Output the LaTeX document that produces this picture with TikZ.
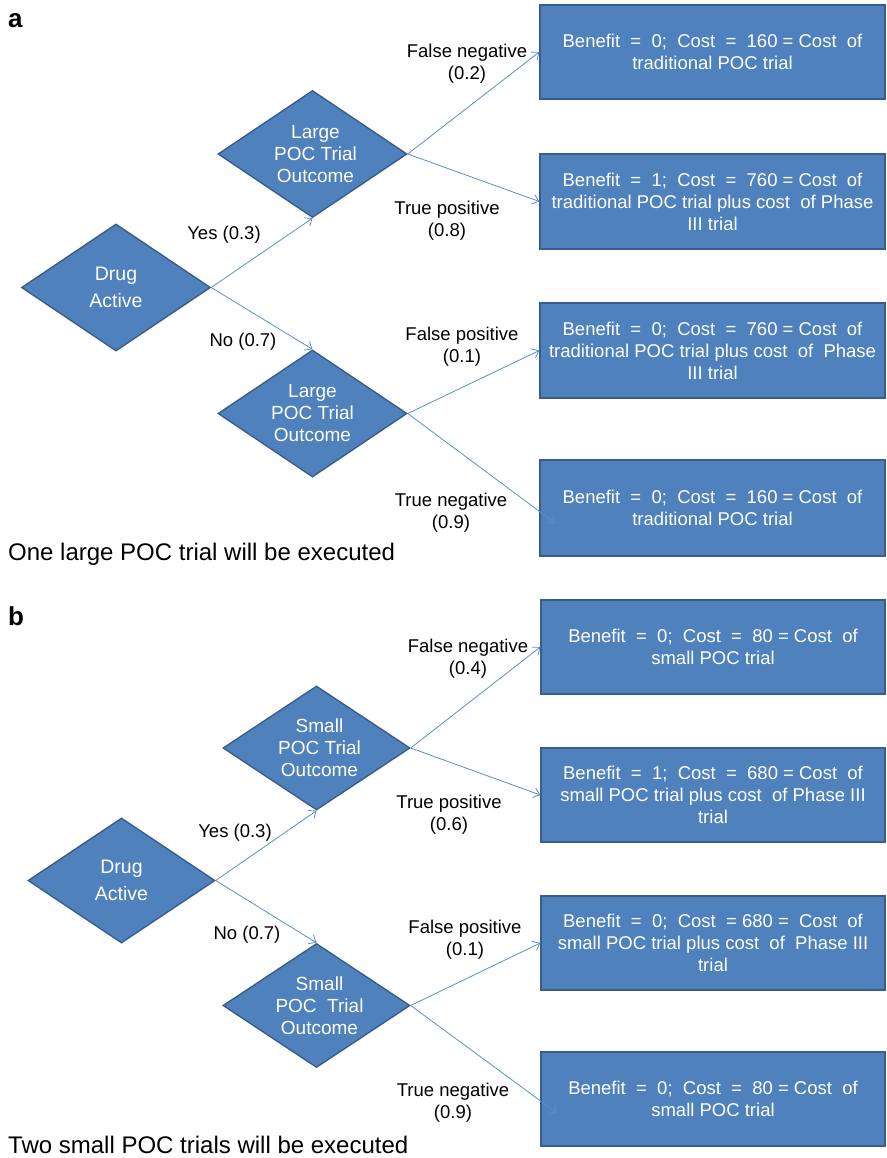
\documentclass[tikz,border=0pt]{standalone}
\usepackage{fontspec}
\setmainfont{Liberation Sans}
\usetikzlibrary{shapes.geometric,arrows.meta}
\definecolor{nodeblue}{HTML}{4F81BD}
\definecolor{edgeblue}{HTML}{385D8A}
\definecolor{linkblue}{HTML}{5B8DCB}
\begin{document}
\begin{tikzpicture}[x=1pt,y=-1pt,
  decision/.style={diamond,aspect=1.49,minimum width=189pt,minimum height=127pt,inner sep=0pt,
    fill=nodeblue,draw=edgeblue,line width=1.4pt,text=white,align=center,
    font=\fontsize{19}{22}\selectfont},
  rootdec/.style={decision,font=\fontsize{19.5}{27}\selectfont},
  outcome/.style={rectangle,fill=nodeblue,draw=edgeblue,line width=1.4pt,text=white,
    align=center,inner sep=0pt,font=\fontsize{18.5}{22}\selectfont},
  branch/.style={draw=linkblue,line width=0.8pt,-{Straight Barb[length=6pt,width=10pt]}},
  lbl/.style={align=center,inner sep=0pt,font=\fontsize{18.5}{22}\selectfont},
  panel/.style={anchor=base west,inner sep=0pt,font=\fontsize{26}{26}\selectfont\bfseries},
  caption/.style={anchor=base west,inner sep=0pt,font=\fontsize{24}{24}\selectfont}]
\useasboundingbox (0,0) rectangle (886,1158);

% ---------- panel a ----------
\node[panel] (pa) at (8,28) {a};
\node[rootdec] (da) at (116,287.5) {Drug\\Active};
\node[decision] (ua) at (312.5,154) {\hspace*{6pt}Large\\\hspace*{6pt}POC Trial\\\hspace*{6pt}Outcome};
\node[decision] (la) at (312.5,413.5) {Large\\POC Trial\\Outcome};

\path (540,5) rectangle (885,99) node[midway,outcome,minimum width=345pt,minimum height=94pt] (a1)
  {Benefit~~=~~0;~~Cost~~=~~160 = Cost~~of\\traditional POC trial};
\path (540,154) rectangle (885,249) node[midway,outcome,minimum width=345pt,minimum height=95pt] (a2)
  {Benefit~~=~~1;~~Cost~~=~~760 = Cost~~of\\traditional POC trial plus cost~~of Phase\\III trial};
\path (540,303) rectangle (885,398) node[midway,outcome,minimum width=345pt,minimum height=95pt] (a3)
  {Benefit~~=~~0;~~Cost~~=~~760 = Cost~~of\\traditional POC trial plus cost~~of~~Phase\\III trial};
\path (540,460) rectangle (885,556) node[midway,outcome,minimum width=345pt,minimum height=96pt] (a4)
  {Benefit~~=~~0;~~Cost~~=~~160 = Cost~~of\\traditional POC trial};

\coordinate (a4tip) at (555,523);
\draw[branch] (da.east) -- (ua.south);
\draw[branch] (da.east) -- (la.north);
\draw[branch] (ua.east) -- (a1.west);
\draw[branch] (ua.east) -- (a2.west);
\draw[branch] (la.east) -- (a3.west);
\draw[branch] (la.east) -- (a4tip);

\node[lbl] (ya) at (224,235) {Yes (0.3)};
\node[lbl] (na) at (243,342) {No (0.7)};
\node[lbl] (fna) at (467,64) {False negative\\(0.2)};
\node[lbl] (tpa) at (447,221) {True positive\\(0.8)};
\node[lbl] (fpa) at (462,347) {False positive\\(0.1)};
\node[lbl] (tna) at (451,513) {True negative\\(0.9)};
\node[caption] (ca) at (8,560) {One large POC trial will be executed};

% ---------- panel b ----------
\node[panel] (pb) at (8,625) {b};
\node[rootdec,minimum width=187pt,minimum height=125pt] (db) at (121.5,880.5) {Drug\\Active};
\node[decision,minimum width=187pt,minimum height=124pt] (ub) at (316.5,748) {\hspace*{6pt}Small\\\hspace*{6pt}POC Trial\\\hspace*{6pt}Outcome};
\node[decision,minimum width=187pt,minimum height=124pt] (lb) at (316.5,1005.5) {\hspace*{6pt}Small\\\hspace*{6pt}POC~~Trial\\\hspace*{6pt}Outcome};

\path (541,600) rectangle (885,694) node[midway,outcome,minimum width=344pt,minimum height=94pt] (b1)
  {Benefit~~=~~0;~~Cost~~=~~80 = Cost~~of\\small POC trial};
\path (541,748) rectangle (885,842) node[midway,outcome,minimum width=344pt,minimum height=94pt] (b2)
  {Benefit~~=~~1;~~Cost~~=~~680 = Cost~~of\\small POC trial plus cost~~of Phase III\\trial};
\path (541,896) rectangle (885,990) node[midway,outcome,minimum width=344pt,minimum height=94pt] (b3)
  {Benefit~~=~~0;~~Cost~~= 680 =~~Cost~~of\\small POC trial plus cost~~of~~Phase III\\trial};
\path (541,1052) rectangle (885,1146) node[midway,outcome,minimum width=344pt,minimum height=94pt] (b4)
  {Benefit~~=~~0;~~Cost~~=~~80 = Cost~~of\\small POC trial};

\coordinate (b4tip) at (557,1113);
\draw[branch] (db.east) -- (ub.south);
\draw[branch] (db.east) -- (lb.north);
\draw[branch] (ub.east) -- (b1.west);
\draw[branch] (ub.east) -- (b2.west);
\draw[branch] (lb.east) -- (b3.west);
\draw[branch] (lb.east) -- (b4tip);

\node[lbl] (yb) at (235,833) {Yes (0.3)};
\node[lbl] (nb) at (247,935) {No (0.7)};
\node[lbl] (fnb) at (468,659) {False negative\\(0.4)};
\node[lbl] (tpb) at (449,815) {True positive\\(0.6)};
\node[lbl] (fpb) at (465,940) {False positive\\(0.1)};
\node[lbl] (tnb) at (453,1103) {True negative\\(0.9)};
\node[caption] (cb) at (8,1153) {Two small POC trials will be executed};
\end{tikzpicture}
\end{document}
